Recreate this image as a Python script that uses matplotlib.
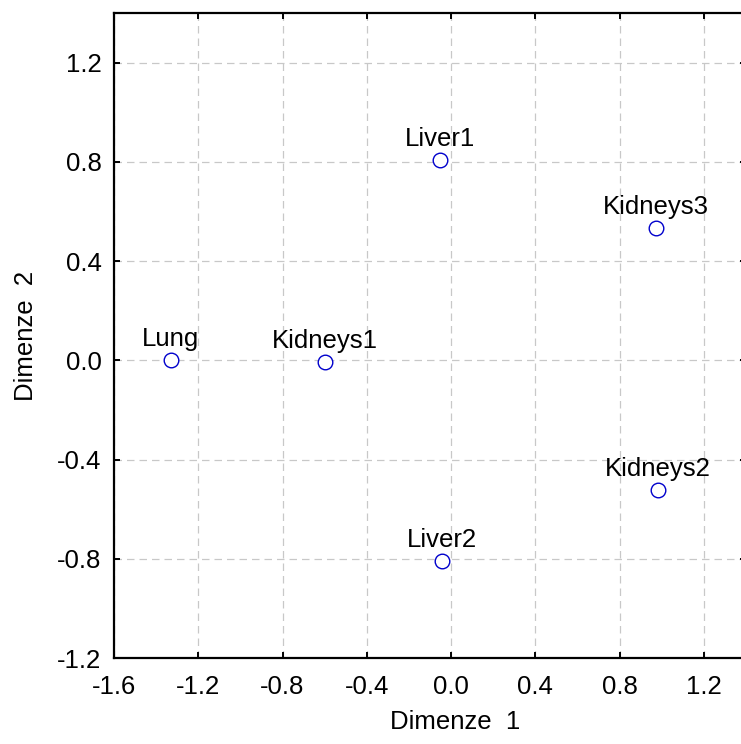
import matplotlib
matplotlib.use("Agg")
import matplotlib.pyplot as plt
from matplotlib.ticker import MultipleLocator, FormatStrFormatter

plt.rcParams['font.family'] = ['Liberation Sans', 'DejaVu Sans']

# MDS coordinates of the samples
labels = ["Lung", "Kidneys1", "Liver1", "Kidneys3", "Kidneys2", "Liver2"]
dim1 = [-1.33, -0.597, -0.053, 0.973, 0.983, -0.044]
dim2 = [0.0, -0.006, 0.808, 0.534, -0.523, -0.809]

W, H = 741, 744
fig = plt.figure(figsize=(W / 100, H / 100), dpi=100)
left, right, top, bottom = 114, 746, 13, 658
ax = fig.add_axes([left / W, (H - bottom) / H, (right - left) / W, (bottom - top) / H])

ax.set_xlim(-1.6, 1.4)
ax.set_ylim(-1.2, 1.4)
ax.xaxis.set_major_locator(MultipleLocator(0.4))
ax.yaxis.set_major_locator(MultipleLocator(0.4))
ax.xaxis.set_major_formatter(FormatStrFormatter('%.1f'))
ax.yaxis.set_major_formatter(FormatStrFormatter('%.1f'))

ax.grid(True, color='#c8c8c8', linestyle=(0, (6, 4)), linewidth=0.9)
ax.set_axisbelow(True)

ax.plot(dim1, dim2, linestyle='none', marker='o', markersize=10.5,
        markerfacecolor='white', markeredgecolor='#0000cc', markeredgewidth=1.0,
        zorder=3)
for name, x, y in zip(labels, dim1, dim2):
    ax.annotate(name, (x, y), xytext=(0, 10), textcoords='offset points',
                ha='center', va='baseline', fontsize=18.5, color='black', zorder=4)

for s in ax.spines.values():
    s.set_linewidth(1.6)
    s.set_color('black')

ax.tick_params(direction='in', length=4.5, width=1.4, labelsize=18.5,
               top=True, right=True)
ax.tick_params(axis='x', pad=12)
ax.tick_params(axis='y', pad=9)

ax.set_xlabel("Dimenze  1", fontsize=18.5)
ax.set_ylabel("Dimenze  2", fontsize=18.5)
ax.xaxis.set_label_coords(0.54, -0.081)
ax.yaxis.set_label_coords(-0.121, 0.5)

fig.savefig("out.png", dpi=100)
